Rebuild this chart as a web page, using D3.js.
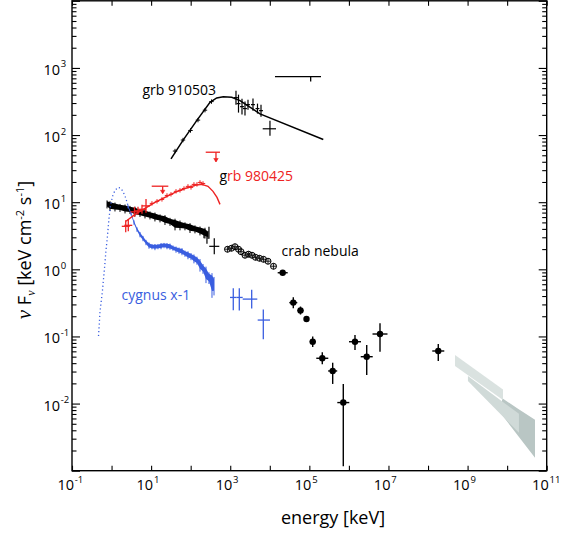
<!DOCTYPE html>
<html><head><meta charset="utf-8">
<script src="https://cdn.jsdelivr.net/npm/d3@7"></script>
<style>body{margin:0;background:#fff}svg{display:block}text{font-family:"Open Sans",sans-serif}</style>
</head><body><svg id="chart" width="561" height="544"></svg>
<script>
// ---------- tick definitions ----------
const xTickExps = [-1,0,1,2,3,4,5,6,7,8,9,10,11];
const xLabelExps = [-1,1,3,5,7,9,11];
const yTickExps = [-3,-2,-1,0,1,2,3,4];
const yLabelExps = [-2,-1,0,1,2,3];

// ---------- GRB 910503 (black) ----------
const grb910ModelE = [31.8, 65, 142, 308, 455, 668, 1089, 1766, 5650, 225000];
const grb910ModelF = [44.3, 85, 164, 307, 357, 373, 365, 326, 207, 86];
const grb910SmallE = [40.2, 64.0, 99.0, 153, 230, 336];
const grb910SmallF = [57.8, 84.3, 117, 167, 235, 315];
const grb910E   = [1398, 1618, 1983, 2361, 2812, 3760, 4887, 5995, 10100];
const grb910ELo = [1245, 1441, 1766, 2103, 2505, 3349, 4353, 5340, 6620];
const grb910EHi = [1566, 1812, 2221, 2644, 3149, 4211, 5473, 6714, 14350];
const grb910F   = [361, 294, 265, 248, 284, 284, 248, 231, 124];
const grb910FLo = [284, 216, 202, 195, 239, 231, 209, 188, 98];
const grb910FHi = [458, 400, 348, 315, 337, 349, 294, 284, 164];
const grb910LimELo = [13530], grb910LimEHi = [197000], grb910LimE = [108000];
const grb910LimF = [740], grb910LimTip = [630];

// ---------- GRB 980425 (red) ----------
const grb980ModelE = [2.32, 3.91, 7.0, 12.5, 22.4, 40.2, 71.8, 128.5, 193, 274, 367, 463, 551];
const grb980ModelF = [5.19, 6.59, 8.09, 9.93, 11.8, 14.0, 16.0, 17.8, 18.4, 17.2, 14.5, 11.8, 9.27];
const grb980E   = [2.28, 2.65, 3.80, 4.66, 5.88, 7.43];
const grb980ELo = [1.81, 2.10, 3.01, 3.69, 4.66, 5.89];
const grb980EHi = [2.88, 3.34, 4.80, 5.88, 7.42, 9.38];
const grb980F   = [4.37, 4.52, 7.18, 7.43, 7.82, 8.81];
const grb980FLo = [3.56, 3.68, 6.05, 6.48, 6.70, 6.94];
const grb980FHi = [5.37, 5.55, 8.52, 8.52, 9.13, 11.2];
const grb980SmallE = [10.5, 14.1, 18.8, 25.2, 31.8, 42.6, 53.7, 67.8, 85.5, 102, 121, 144, 172, 205];
const grb980SmallF = [9.6, 10.3, 11.0, 12.6, 13.1, 14.5, 15.0, 16.0, 17.2, 16.6, 18.4, 18.4, 19.7, 19.0];
const grb980LimELo = [10.35, 240], grb980LimEHi = [27.2, 551], grb980LimE = [19.6, 436];
const grb980LimF = [17.3, 55.5], grb980LimTip = [13.6, 40.4];

// ---------- Crab nebula (black) ----------
const crabBandE = [0.768, 0.913, 1.22, 1.635, 2.19, 2.92, 3.91, 5.24, 7.0, 9.37, 12.5, 16.8, 22.4, 30.0, 40.2, 53.7, 71.8, 96.2, 128.5, 172, 230, 274];
const crabBandF = [9.44, 8.96, 8.66, 8.37, 8.09, 7.82, 7.43, 7.05, 6.82, 6.47, 6.15, 5.84, 5.55, 5.19, 4.80, 4.62, 4.45, 4.22, 4.01, 3.81, 3.56, 3.32];
const crabBandErr = [0.09, 0.11, 0.10, 0.09, 0.10, 0.09, 0.11, 0.09, 0.10, 0.09, 0.10, 0.09, 0.11, 0.09, 0.13, 0.11, 0.09, 0.11, 0.09, 0.10, 0.12, 0.09];
const crabScatE = [217, 258, 290, 395];
const crabScatELo = [217, 258, 290, 295];
const crabScatEHi = [217, 258, 290, 529];
const crabScatF = [3.21, 2.90, 3.56, 2.20];
const crabScatFLo = [2.90, 2.40, 2.85, 1.67];
const crabScatFHi = [3.55, 3.40, 4.30, 2.90];
const crabCircE = [853, 1076, 1319, 1618, 1871, 2361, 2897, 3548, 4352, 5495, 6934, 9016, 12410];
const crabCircF = [1.99, 2.06, 2.17, 1.99, 1.83, 1.62, 1.68, 1.62, 1.51, 1.46, 1.41, 1.32, 1.11];
const crabHiE   = [21180, 39270, 59700, 84700, 121600, 212300, 389000, 721000, 1425000, 2820000, 6110000, 181600000];
const crabHiELo = [15830, 31120, 50100, 84700, 102000, 149700, 299000, 509000, 1005000, 1990000, 3950000, 128000000];
const crabHiEHi = [28340, 49560, 71100, 84700, 144800, 301000, 506000, 1022000, 2020000, 4000000, 9450000, 257500000];
const crabHiF   = [0.889, 0.319, 0.243, 0.182, 0.0834, 0.0473, 0.0306, 0.01035, 0.0834, 0.0499, 0.1087, 0.0607];
const crabHiFLo = [0.889, 0.264, 0.212, 0.182, 0.0695, 0.0385, 0.0196, 0.00116, 0.0628, 0.0267, 0.0593, 0.0430];
const crabHiFHi = [0.889, 0.385, 0.279, 0.182, 0.100, 0.0581, 0.0406, 0.0196, 0.105, 0.0745, 0.157, 0.0771];

// ---------- Cygnus X-1 (blue) ----------
const cygModelE = [0.468, 0.510, 0.590, 0.663, 0.724, 0.790, 0.862, 0.940, 1.056, 1.22, 1.455, 1.683, 1.946, 2.25, 2.60];
const cygModelF = [0.1014, 0.2305, 0.489, 1.038, 1.92, 3.21, 5.74, 8.97, 12.2, 14.97, 16.6, 16.3, 14.5, 11.8, 8.97];
const cygE = [2.60, 3.10, 3.69, 4.40, 5.24, 6.23, 7.42, 8.84, 10.5, 12.5, 14.9, 17.8, 21.2, 25.2, 30.0, 35.7, 42.6, 50.7, 60.3, 71.8, 85.5, 102, 121, 144, 172, 205, 244, 290, 346, 389];
const cygF = [8.66, 6.82, 5.01, 3.94, 3.32, 2.90, 2.53, 2.28, 2.20, 2.17, 2.20, 2.24, 2.28, 2.24, 2.20, 2.09, 1.99, 1.92, 1.86, 1.73, 1.65, 1.57, 1.46, 1.37, 1.19, 1.04, 0.875, 0.763, 0.643, 0.601];
const cygErr = [0.04, 0.04, 0.05, 0.05, 0.06, 0.06, 0.06, 0.07, 0.06, 0.07, 0.06, 0.07, 0.06, 0.07, 0.07, 0.06, 0.07, 0.07, 0.08, 0.07, 0.09, 0.08, 0.10, 0.09, 0.14, 0.11, 0.18, 0.13, 0.26, 0.20];
const cygXE   = [1194, 1695, 3486, 6855];
const cygXELo = [986, 1439, 2065, 4943];
const cygXEHi = [1439, 2065, 4831, 10120];
const cygXF   = [0.381, 0.381, 0.360, 0.1754];
const cygXFLo = [0.2466, 0.244, 0.260, 0.0906];
const cygXFHi = [0.524, 0.524, 0.498, 0.253];

// ---------- GeV/TeV bands (grey) ----------
const band1E = [4.81e8, 7.85e9],  band1Lo = [0.0363, 0.01135], band1Hi = [0.0529, 0.01626];
const band2E = [1.02e9, 1.99e10], band2Lo = [0.0217, 0.00367], band2Hi = [0.0258, 0.00703];
const band3E = [7.41e9, 1.88e10, 5.06e10], band3Lo = [0.00679, 0.00331, 0.00156], band3Hi = [0.01215, 0.00834, 0.00573];

// ================= drawing =================
const RED = "#ee2222", BLUE = "#3a5ee0";
const svg = d3.select("#chart");
const L = 72, R = 546.7, T = 0.8, B = 470.7;
const x = d3.scaleLog().domain([1e-1, 1e11]).range([L, R]);
const y = d3.scaleLog().domain([1e-3, 1e4]).range([B, T]);

function band(E, lo, hi, fill) {
  const pts = E.map((e, i) => ({e, lo: lo[i], hi: hi[i]}));
  svg.append("path").datum(pts)
    .attr("d", d3.area().x(d => x(d.e)).y0(d => y(d.lo)).y1(d => y(d.hi)))
    .attr("fill", fill);
}
band(band3E, band3Lo, band3Hi, "#b9c6c4");
band(band1E, band1Lo, band1Hi, "#dae2e0");
band(band2E, band2Lo, band2Hi, "#d0dad8");

function line(E, F, color, w, dash) {
  const p = svg.append("path").datum(E.map((e, i) => [e, F[i]]))
    .attr("d", d3.line().x(d => x(d[0])).y(d => y(d[1])))
    .attr("fill", "none").attr("stroke", color).attr("stroke-width", w);
  if (dash) p.attr("stroke-dasharray", dash);
  return p;
}
function crosses(E, ELo, EHi, F, FLo, FHi, color, w) {
  const g = svg.append("g").attr("stroke", color).attr("stroke-width", w);
  E.forEach((e, i) => {
    g.append("line").attr("x1", x(ELo[i])).attr("x2", x(EHi[i])).attr("y1", y(F[i])).attr("y2", y(F[i]));
    g.append("line").attr("x1", x(e)).attr("x2", x(e)).attr("y1", y(FLo[i])).attr("y2", y(FHi[i]));
  });
}
function plus(E, F, color, s, w) {
  const g = svg.append("g").attr("stroke", color).attr("stroke-width", w);
  E.forEach((e, i) => {
    g.append("path").attr("d", `M${x(e)-s},${y(F[i])}h${2*s}M${x(e)},${y(F[i])-s}v${2*s}`);
  });
}
function limits(ELo, EHi, E, F, Tip, color, arrow) {
  const g = svg.append("g").attr("stroke", color).attr("fill", color).attr("stroke-width", 1.3);
  E.forEach((e, i) => {
    g.append("line").attr("x1", x(ELo[i])).attr("x2", x(EHi[i])).attr("y1", y(F[i])).attr("y2", y(F[i]));
    g.append("line").attr("x1", x(e)).attr("x2", x(e)).attr("y1", y(F[i])).attr("y2", y(Tip[i]));
    if (arrow) {
      const tx = x(e), ty = y(Tip[i]);
      g.append("path").attr("d", `M${tx-2.2},${ty-3}L${tx+2.2},${ty-3}L${tx},${ty+0.5}Z`).attr("stroke-width", 0.6);
    }
  });
}

// Crab band
const crabPts = crabBandE.map((e, i) => ({e, f: crabBandF[i], err: crabBandErr[i]}));
svg.append("path").datum(crabPts)
  .attr("d", d3.area().x(d => x(d.e)).y0(d => y(d.f * (1 - d.err))).y1(d => y(d.f * (1 + d.err))))
  .attr("fill", "#000");
svg.append("g").attr("stroke", "#000").attr("stroke-width", 1).selectAll("line").data(crabPts).join("line")
  .attr("x1", d => x(d.e)).attr("x2", d => x(d.e))
  .attr("y1", d => y(d.f * (1 - 1.6 * d.err))).attr("y2", d => y(d.f * (1 + 1.4 * d.err)));
crosses(crabScatE, crabScatELo, crabScatEHi, crabScatF, crabScatFLo, crabScatFHi, "#000", 1.2);

const cg = svg.append("g");
crabCircE.forEach((e, i) => {
  const cx = x(e), cy = y(crabCircF[i]);
  cg.append("circle").attr("cx", cx).attr("cy", cy).attr("r", 3).attr("fill", "#888").attr("fill-opacity", 0.25).attr("stroke", "#000").attr("stroke-width", 1);
  cg.append("path").attr("d", `M${cx-3},${cy}h6M${cx},${cy-3}v6`).attr("stroke", "#000").attr("stroke-width", 0.8);
});
crosses(crabHiE, crabHiELo, crabHiEHi, crabHiF, crabHiFLo, crabHiFHi, "#000", 1.4);
svg.append("g").selectAll("circle").data(crabHiE).join("circle")
  .attr("cx", d => x(d)).attr("cy", (d, i) => y(crabHiF[i])).attr("r", 3.2).attr("fill", "#000");

// Cygnus X-1
line(cygModelE, cygModelF, BLUE, 1.3, "1.2,2.6");
const cygPts = cygE.map((e, i) => ({e, f: cygF[i], err: cygErr[i]}));
svg.append("path").datum(cygPts)
  .attr("d", d3.area().x(d => x(d.e)).y0(d => y(d.f * (1 - d.err))).y1(d => y(d.f * (1 + d.err))))
  .attr("fill", BLUE);
svg.append("g").attr("stroke", BLUE).attr("stroke-width", 1).selectAll("line").data(cygPts).join("line")
  .attr("x1", d => x(d.e)).attr("x2", d => x(d.e))
  .attr("y1", d => y(d.f * (1 - 1.6 * d.err))).attr("y2", d => y(d.f * (1 + 1.4 * d.err)));
crosses(cygXE, cygXELo, cygXEHi, cygXF, cygXFLo, cygXFHi, BLUE, 1.3);

// GRB 980425
line(grb980ModelE, grb980ModelF, RED, 1.4);
crosses(grb980E, grb980ELo, grb980EHi, grb980F, grb980FLo, grb980FHi, RED, 1.3);
plus(grb980SmallE, grb980SmallF, RED, 2.2, 1);
limits(grb980LimELo, grb980LimEHi, grb980LimE, grb980LimF, grb980LimTip, RED, true);

// GRB 910503
line(grb910ModelE, grb910ModelF, "#000", 1.5);
plus(grb910SmallE, grb910SmallF, "#000", 2.2, 1);
crosses(grb910E, grb910ELo, grb910EHi, grb910F, grb910FLo, grb910FHi, "#000", 1.2);
limits(grb910LimELo, grb910LimEHi, grb910LimE, grb910LimF, grb910LimTip, "#000", false);

// ---------- axes ----------
const majorY = yTickExps.map(k => Math.pow(10, k));
const minorY = [];
yTickExps.slice(0, -1).forEach(k => { for (let m = 2; m <= 9; m++) minorY.push(m * Math.pow(10, k)); });
const xTicks = xTickExps.map(k => Math.pow(10, k));

function axisG(axis, tx, ty) {
  const g = svg.append("g").attr("transform", `translate(${tx},${ty})`).call(axis);
  g.select(".domain").remove();
  g.selectAll("line").attr("stroke", "#000").attr("stroke-width", 1.1);
  return g;
}
axisG(d3.axisBottom(x).tickValues(xTicks).tickSize(-5).tickFormat(""), 0, B);
axisG(d3.axisTop(x).tickValues(xTicks).tickSize(-5).tickFormat(""), 0, T);
axisG(d3.axisLeft(y).tickValues(majorY).tickSize(-8).tickFormat(""), L, 0);
axisG(d3.axisLeft(y).tickValues(minorY).tickSize(-4.5).tickFormat(""), L, 0);
axisG(d3.axisRight(y).tickValues(majorY).tickSize(-8).tickFormat(""), R, 0);
axisG(d3.axisRight(y).tickValues(minorY).tickSize(-4.5).tickFormat(""), R, 0);

svg.append("rect").attr("x", L).attr("y", T).attr("width", R - L).attr("height", B - T)
  .attr("fill", "none").attr("stroke", "#000").attr("stroke-width", 1.4);

yLabelExps.forEach(k => {
  const py = y(Math.pow(10, k));
  svg.append("text").attr("x", 60).attr("y", py + 7).attr("text-anchor", "end").attr("font-size", 14.5).text("10");
  svg.append("text").attr("x", 60.8).attr("y", py - 0.5).attr("font-size", 9.5).text(String(k));
});
xLabelExps.forEach(k => {
  const px = x(Math.pow(10, k));
  svg.append("text").attr("x", px + 2).attr("y", 490).attr("text-anchor", "end").attr("font-size", 14.5).text("10");
  svg.append("text").attr("x", px + 2.8).attr("y", 482.5).attr("font-size", 9.5).text(String(k));
});

svg.append("text").attr("x", 333).attr("y", 523.5).attr("text-anchor", "middle").attr("font-size", 18).text("energy [keV]");
const yt = svg.append("text").attr("transform", "translate(31,250) rotate(-90)").attr("text-anchor", "middle").attr("font-size", 18);
yt.append("tspan").attr("font-family", "Liberation Serif").attr("font-style", "italic").attr("font-size", 21).text("ν");
yt.append("tspan").text(" F");
yt.append("tspan").attr("font-family", "Liberation Serif").attr("font-style", "italic").attr("font-size", 12).attr("dy", 4).text("ν");
yt.append("tspan").attr("dy", -4).text(" [keV cm");
yt.append("tspan").attr("font-size", 11).attr("dy", -7).text("-2");
yt.append("tspan").attr("dy", 7).text(" s");
yt.append("tspan").attr("font-size", 11).attr("dy", -7).text("-1");
yt.append("tspan").attr("dy", 7).text("]");

svg.append("text").attr("x", 142.5).attr("y", 94.5).attr("font-size", 14).attr("fill", "#000").text("grb 910503");
const t980 = svg.append("text").attr("x", 219.5).attr("y", 181).attr("font-size", 14);
t980.append("tspan").attr("fill", "#000").text("g");
t980.append("tspan").attr("fill", RED).text("rb 980425");
svg.append("text").attr("x", 281.5).attr("y", 256).attr("font-size", 14).attr("fill", "#000").text("crab nebula");
svg.append("text").attr("x", 121.5).attr("y", 300).attr("font-size", 14).attr("fill", BLUE).text("cygnus x-1");
</script></body></html>
